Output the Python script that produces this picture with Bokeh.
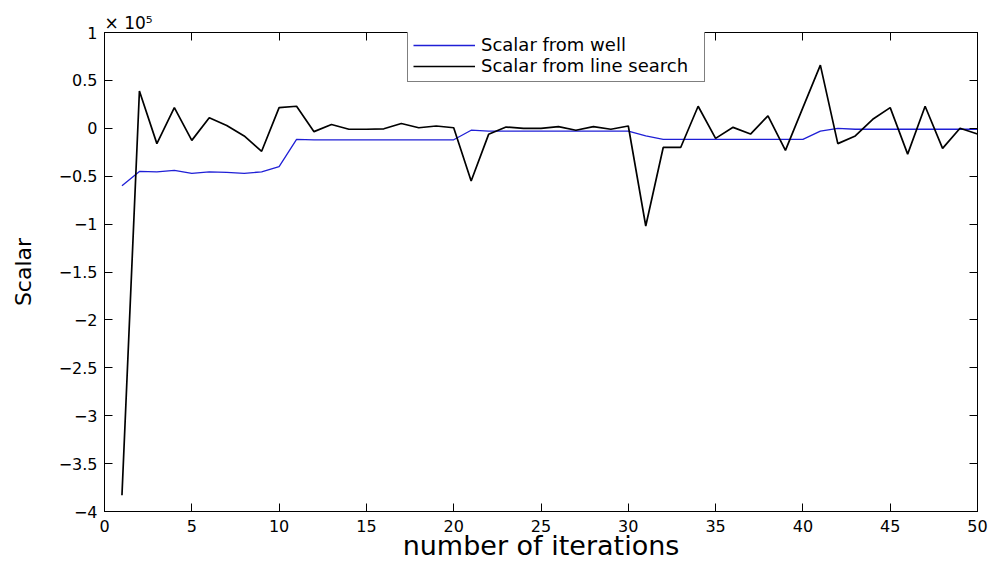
from bokeh.plotting import figure
from bokeh.models import LinearAxis, Legend, LegendItem, FixedTicker, Range1d
from bokeh.embed import file_html
from bokeh.resources import INLINE

# Iteration number and the two scalar estimates (values in units of 10^5)
iterations = list(range(1, 51))

scalar_from_well = [
    -0.60, -0.45, -0.455, -0.44, -0.47, -0.455, -0.46, -0.47, -0.455, -0.40,
    -0.115, -0.12, -0.12, -0.12, -0.12, -0.12, -0.12, -0.12, -0.12, -0.12,
    -0.02, -0.03, -0.03, -0.03, -0.03, -0.03, -0.03, -0.03, -0.03, -0.03,
    -0.08, -0.115, -0.115, -0.115, -0.115, -0.115, -0.115, -0.115, -0.115, -0.115,
    -0.03, 0.0, -0.01, -0.01, -0.01, -0.01, -0.01, -0.01, -0.01, -0.01,
]

scalar_from_line_search = [
    -3.83, 0.39, -0.16, 0.216, -0.126, 0.11, 0.03, -0.08, -0.24, 0.216,
    0.23, -0.035, 0.04, -0.01, -0.01, -0.005, 0.05, 0.006, 0.024, 0.006,
    -0.55, -0.063, 0.013, 0.0, 0.0, 0.017, -0.02, 0.017, -0.01, 0.024,
    -1.02, -0.2, -0.2, 0.23, -0.105, 0.01, -0.06, 0.13, -0.23, 0.216,
    0.66, -0.16, -0.08, 0.094, 0.216, -0.27, 0.23, -0.21, 0.0, -0.06,
]

scale_text = "\u00d7 10\u2075"
x_ticks = [0, 5, 10, 15, 20, 25, 30, 35, 40, 45, 50]
y_ticks = [-4, -3.5, -3, -2.5, -2, -1.5, -1, -0.5, 0, 0.5, 1]
y_tick_labels = ["\u22124", "\u22123.5", "\u22123", "\u22122.5", "\u22122", "\u22121.5",
                 "\u22121", "\u22120.5", "0", "0.5", "1"]

FONT = "DejaVu Sans"

p = figure(
    width=989, height=563,
    output_backend="svg", toolbar_location=None,
    x_range=Range1d(0, 50), y_range=Range1d(-4, 1),
    min_border_left=104, min_border_right=12,
    min_border_top=32, min_border_bottom=51,
    background_fill_color="white", border_fill_color="white",
)
p.outline_line_color = "black"
p.xgrid.grid_line_color = None
p.ygrid.grid_line_color = None

well = p.line(iterations, scalar_from_well, line_color="#1f1fd6", line_width=1.3)
search = p.line(iterations, scalar_from_line_search, line_color="black", line_width=1.7)

bottom = p.below[0]
left = p.left[0]
top = LinearAxis()
right = LinearAxis()
p.add_layout(top, "above")
p.add_layout(right, "right")

for ax in (bottom, top):
    ax.ticker = FixedTicker(ticks=x_ticks)
for ax in (left, right):
    ax.ticker = FixedTicker(ticks=y_ticks)
    ax.major_label_overrides = {t: s for t, s in zip(y_ticks, y_tick_labels)}

# box-style axes: ticks pointing inward on all four sides
for ax in (bottom, top, left, right):
    ax.major_tick_in = 8
    ax.major_tick_out = 0
    ax.minor_tick_line_color = None
    ax.axis_line_color = "black"
    ax.major_tick_line_color = "black"
    ax.major_label_text_font = FONT
    ax.major_label_text_font_size = "16px"
    ax.major_label_text_color = "black"

bottom.major_label_standoff = 8
left.major_label_standoff = 7
# top and right sides carry ticks only
for ax in (top, right):
    ax.major_label_text_font_size = "1px"
    ax.major_label_text_color = None
    ax.major_label_standoff = 0

left.axis_label = "Scalar"
left.axis_label_text_font = FONT
left.axis_label_text_font_size = "22px"
left.axis_label_text_font_style = "normal"
left.axis_label_text_color = "black"
left.axis_label_standoff = 20

bottom.axis_label = "number of iterations"
bottom.axis_label_text_font = FONT
bottom.axis_label_text_font_size = "27px"
bottom.axis_label_text_font_style = "normal"
bottom.axis_label_text_color = "black"
bottom.axis_label_standoff = -5

# exponent multiplier shown above the top-left corner
p.title.text = scale_text
p.title.align = "left"
p.title.text_font = FONT
p.title.text_font_size = "17px"
p.title.text_font_style = "normal"
p.title.text_color = "black"
p.title.offset = 0
p.title.standoff = 0

legend = Legend(
    items=[LegendItem(label="Scalar from well", renderers=[well]),
           LegendItem(label="Scalar from line search", renderers=[search])],
    location=(303, 429),
    border_line_color="black", border_line_width=1,
    background_fill_color="white", background_fill_alpha=1,
    label_text_font=FONT, label_text_font_size="18px", label_text_color="black",
    glyph_width=62, glyph_height=18, label_height=18, label_width=218,
    label_standoff=6, padding=5, spacing=0, margin=0,
)
p.add_layout(legend, "center")

open("out.html", "w").write(file_html(p, INLINE))
